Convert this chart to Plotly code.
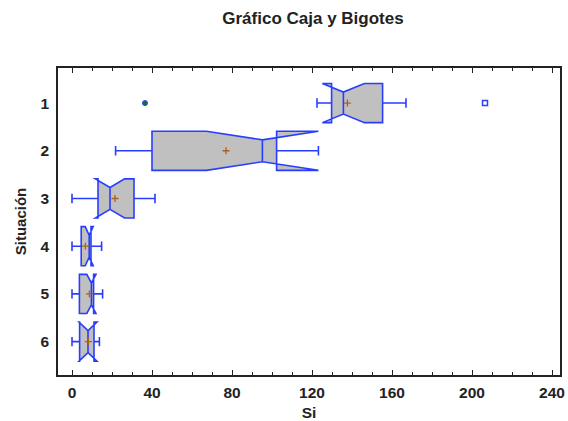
import plotly.graph_objects as go

# Data
situacion = [1, 2, 3, 4, 5, 6]
tick_labels = ["1", "2", "3", "4", "5", "6"]
x_ticks = [0, 40, 80, 120, 160, 200, 240]
q1 = [129.8, 40.0, 13.0, 4.6, 3.7, 3.8]
mediana = [135.7, 95.2, 19.0, 8.6, 9.7, 8.0]
q3 = [155.3, 102.3, 31.0, 9.5, 10.8, 11.0]
bigote_inf = [122.5, 21.8, 0.0, 0.0, 0.0, 0.0]
bigote_sup = [167.0, 104.3, 41.5, 14.8, 15.3, 13.7]
muesca = [10.5, 28.0, 7.3, 2.0, 2.3, 4.5]
media = [137.7, 77.0, 21.5, 6.7, 8.7, 8.2]
atipico_x = [206.5]
atipico_y = [1]
marcado_x = [36.5]
marcado_y = [1]

BLUE = "rgb(40,62,255)"
FONT = "Liberation Sans, Arial, sans-serif"

fig = go.Figure()
fig.add_trace(go.Box(
    orientation="h",
    y=situacion,
    q1=q1, median=mediana, q3=q3,
    lowerfence=bigote_inf, upperfence=bigote_sup,
    notchspan=muesca, notched=True, notchwidth=0.22,
    width=0.82, whiskerwidth=0.24,
    fillcolor="#c0c0c0",
    line=dict(color=BLUE, width=1.6),
    boxpoints=False,
    showlegend=False,
))
fig.add_trace(go.Scatter(
    x=media, y=situacion, mode="markers",
    marker=dict(symbol="cross-thin", size=5, color="#b0601a",
                line=dict(color="#b0601a", width=1.3)),
    showlegend=False,
))
fig.add_trace(go.Scatter(
    x=atipico_x, y=atipico_y, mode="markers",
    marker=dict(symbol="square-open", size=5, color=BLUE,
                line=dict(color=BLUE, width=1.5)),
    showlegend=False,
))
fig.add_trace(go.Scatter(
    x=marcado_x, y=marcado_y, mode="markers",
    marker=dict(symbol="circle", size=5, color="#1c6a3c",
                line=dict(color=BLUE, width=1)),
    showlegend=False,
))

fig.update_layout(
    width=568, height=421,
    margin=dict(l=58, r=8, t=68, b=46),
    paper_bgcolor="white", plot_bgcolor="white",
    font=dict(family=FONT, size=15.5, color="#222222"),
    title=dict(text="<b>Gráfico Caja y Bigotes</b>", x=0.551, xanchor="center",
               y=0.958, yanchor="middle", font=dict(size=17, color="#222222")),
)
fig.update_xaxes(
    range=[-7, 244], tickvals=x_ticks,
    ticktext=["<b>%d</b>" % v for v in x_ticks],
    ticks="inside", ticklen=5, tickwidth=1, tickcolor="#222",
    minor=dict(dtick=10, tick0=0, ticks="inside", ticklen=3, tickcolor="#222"),
    ticklabelstandoff=3, automargin=False,
    showline=True, linecolor="#222", linewidth=1.5, mirror="ticks",
    showgrid=False, zeroline=False,
    title=dict(text="<b>Si</b>", standoff=8, font=dict(size=15.5)),
)
fig.update_yaxes(
    range=[6.70, 0.265], tickvals=situacion,
    ticktext=["<b>%s</b>" % t for t in tick_labels],
    ticks="", ticklabelstandoff=4, automargin=False,
    showline=True, linecolor="#222", linewidth=1.5, mirror=True,
    showgrid=False, zeroline=False,
    title=dict(text="<b>Situación</b>", standoff=10, font=dict(size=15)),
)

fig.write_html("out.html")
